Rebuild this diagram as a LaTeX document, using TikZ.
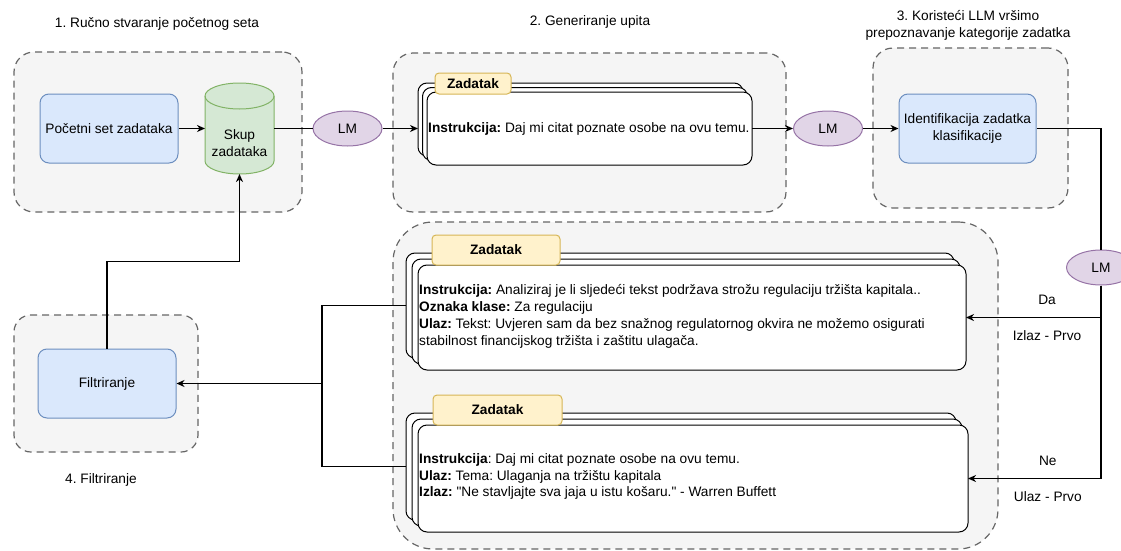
\documentclass[tikz,border=0pt]{standalone}
\usepackage{fontspec}
\setmainfont{Liberation Sans}
\usetikzlibrary{arrows.meta,shapes.geometric}
\frenchspacing

\definecolor{grpfill}{HTML}{F5F5F5}
\definecolor{grpdraw}{HTML}{666666}
\definecolor{bluefill}{HTML}{DAE8FC}
\definecolor{bluedraw}{HTML}{6C8EBF}
\definecolor{greenfill}{HTML}{D5E8D4}
\definecolor{greendraw}{HTML}{82B366}
\definecolor{lmfill}{HTML}{E1D5E7}
\definecolor{lmdraw}{HTML}{9673A6}
\definecolor{tagfill}{HTML}{FFF2CC}
\definecolor{tagdraw}{HTML}{D6B656}

\begin{document}
\begin{tikzpicture}[x=1pt,y=1pt,
  font=\fontsize{13.7}{16.8}\selectfont,
  grp/.style={draw=grpdraw, fill=grpfill, dash pattern=on 7pt off 5pt,
    line width=1.2pt, inner sep=0pt, outer sep=0pt},
  procbox/.style={draw=bluedraw, fill=bluefill, rounded corners=9pt,
    line width=1pt, inner sep=0pt, align=center},
  lmnode/.style={ellipse, draw=lmdraw, fill=lmfill, line width=1pt,
    minimum width=69pt, minimum height=35pt, inner sep=0pt},
  card/.style={draw=black, fill=white, rounded corners=9pt,
    line width=1pt, inner sep=0pt, outer sep=0pt},
  tag/.style={draw=tagdraw, fill=tagfill, rounded corners=4pt,
    line width=1pt, inner sep=0pt,
    font=\fontsize{13.7}{16.8}\selectfont\bfseries},
  cardtext/.style={anchor=west, inner sep=0pt, align=left},
  lbl/.style={inner sep=0pt},
  wire/.style={line width=1.2pt},
  arr/.style={wire, -{Stealth[length=8pt,width=7pt,inset=2.5pt]}}
]
\useasboundingbox (0,0) rectangle (1121,-551);

% dashed group backgrounds
\node[grp, rounded corners=20pt, minimum width=288pt, minimum height=160pt] (g1) at (158,-132) {};
\node[grp, rounded corners=20pt, minimum width=393pt, minimum height=159pt] (g2) at (589.5,-132.5) {};
\node[grp, rounded corners=20pt, minimum width=195pt, minimum height=160pt] (g3) at (970.5,-128) {};
\node[grp, rounded corners=17pt, minimum width=184pt, minimum height=137pt] (g4) at (106,-383.5) {};
\node[grp, rounded corners=40pt, minimum width=605pt, minimum height=327pt] (g5) at (695.5,-385.5) {};

% group titles
\node (t1) at (157,-24) {1. Ručno stvaranje početnog seta};
\node (t2) at (590,-22) {2. Generiranje upita};
\node[align=center] (t3) at (968,-25) {3. Koristeći LLM vršimo\\prepoznavanje kategorije zadatka};
\node (t4) at (101,-480) {4. Filtriranje};

% process boxes
\node[procbox, minimum width=138pt, minimum height=69pt] (poc) at (109,-128.5) {Početni set zadataka};
\node[procbox, minimum width=137pt, minimum height=69pt] (ident) at (967.5,-128.5) {Identifikacija zadatka\\klasifikacije};
\node[procbox, minimum width=138pt, minimum height=69pt] (filt) at (107,-383.5) {Filtriranje};

% task store (cylinder)
\node[minimum width=69pt, minimum height=91pt, inner sep=0pt, outer sep=0pt] (cyl) at (239.5,-128.5) {};
\path[fill=greenfill, draw=greendraw, line width=1pt]
  ([yshift=-13pt]cyl.north west) -- ([yshift=13pt]cyl.south west)
  arc[start angle=180, end angle=360, x radius=34.5pt, y radius=13pt]
  -- ([yshift=-13pt]cyl.north east)
  arc[start angle=0, end angle=180, x radius=34.5pt, y radius=13pt] -- cycle;
\draw[greendraw, line width=1pt] ([yshift=-13pt]cyl.north west)
  arc[start angle=180, end angle=360, x radius=34.5pt, y radius=13pt];
\node[align=center] (cyltxt) at (239.5,-143.5) {Skup\\zadataka};

% language model steps
\node[lmnode] (lm1) at (347.5,-128.5) {LM};
\node[lmnode] (lm2) at (828,-128.5) {LM};
\node[lmnode] (lm3) at (1101,-267.5) {LM};

% stack A: generated prompt
\node[card, minimum width=325pt, minimum height=73pt] (sAback) at (580.5,-119.5) {};
\node[card, minimum width=325pt, minimum height=73pt] (sAmid) at (585,-124) {};
\node[card, minimum width=325pt, minimum height=73pt] (sAfront) at (589.5,-128.5) {};
\node[tag, minimum width=76pt, minimum height=21pt] (tagA) at (473,-83.5) {Zadatak};
\node[cardtext] (txtA) at ([xshift=1pt]sAfront.west)
  {\textbf{Instrukcija:} Daj mi citat poznate osobe na ovu temu.};

% stack B: output first
\node[card, minimum width=548pt, minimum height=105pt] (sBback) at (680,-305.5) {};
\node[card, minimum width=548pt, minimum height=105pt] (sBmid) at (686,-311.5) {};
\node[card, minimum width=548pt, minimum height=105pt] (sBfront) at (692,-317.5) {};
\node[tag, minimum width=128pt, minimum height=30pt] (tagB) at (496,-250) {Zadatak};
\node[cardtext] (txtB) at ([xshift=1pt,yshift=1pt]sBfront.west)
  {\textbf{Instrukcija:} Analiziraj je li sljedeći tekst podržava strožu regulaciju tržišta kapitala..\\
   \textbf{Oznaka klase:} Za regulaciju\\
   \textbf{Ulaz:} Tekst: Uvjeren sam da bez snažnog regulatornog okvira ne možemo osigurati\\
   stabilnost financijskog tržišta i zaštitu ulagača.};

% stack C: input first
\node[card, minimum width=550pt, minimum height=107pt] (sCback) at (681,-466.5) {};
\node[card, minimum width=550pt, minimum height=107pt] (sCmid) at (687,-472.5) {};
\node[card, minimum width=550pt, minimum height=107pt] (sCfront) at (693,-478.5) {};
\node[tag, minimum width=129pt, minimum height=30pt] (tagC) at (497.5,-410) {Zadatak};
\node[cardtext] (txtC) at ([xshift=1pt,yshift=2pt]sCfront.west)
  {\textbf{Instrukcija}: Daj mi citat poznate osobe na ovu temu.\\
   \textbf{Ulaz:} Tema: Ulaganja na tržištu kapitala\\
   \textbf{Izlaz:} \textquotedbl Ne stavljajte sva jaja u istu košaru.\textquotedbl{} - Warren Buffett};

% connectors
\draw[arr] (poc) -- (cyl);
\draw[wire] (cyl) -- (lm1);
\draw[arr] (lm1) -- (lm1 -| sAback.west);
\draw[arr] (sAfront.east) -- (lm2);
\draw[arr] (lm2) -- (ident);
\draw[wire] (ident.east) -| (lm3.north);
\draw[arr] (lm3.south) |- (sBfront.east)
  node[lbl, pos=0.7, above=12pt] (lDa) {Da}
  node[lbl, pos=0.7, below=12pt] (lIzlaz) {Izlaz - Prvo};
\draw[arr] (lm3.south) |- (sCfront.east)
  node[lbl, pos=0.7, above=12pt] (lNe) {Ne}
  node[lbl, pos=0.7, below=12pt] (lUlaz) {Ulaz - Prvo};

\coordinate (bus) at (322,-383.5);
\draw[wire] (sBback.west) -| (bus);
\draw[wire] (sCback.west) -| (bus);
\draw[arr] (bus) -- (filt.east);
\draw[arr] (filt.north) -- ++(0,87) -| (cyl.south);
\end{tikzpicture}
\end{document}
